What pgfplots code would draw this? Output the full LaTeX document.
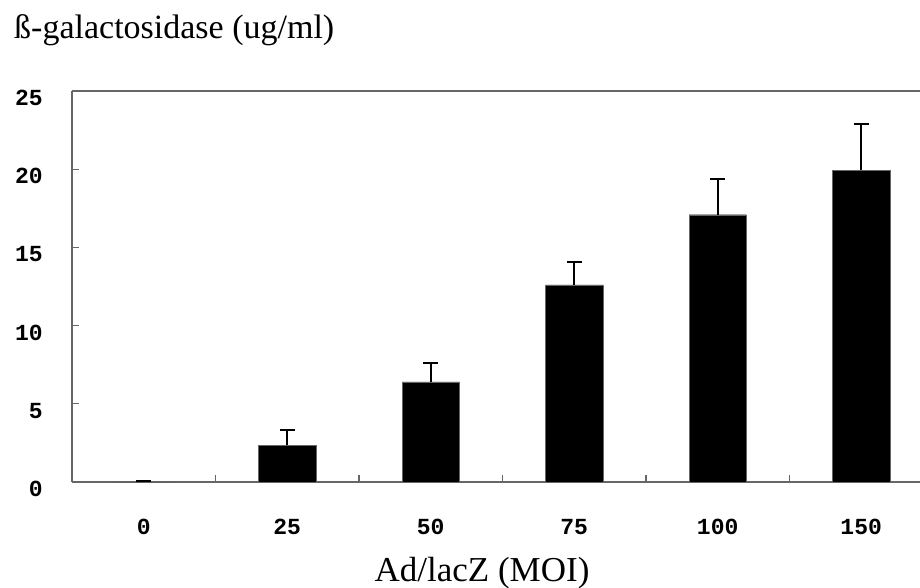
\documentclass[border=0pt]{standalone}
\usepackage{pgfplots}
\pgfplotsset{compat=1.18}
\usepackage{fontspec}
\setmainfont{Liberation Serif}
\newfontfamily\tickfont{Liberation Mono}

\begin{document}
\begin{tikzpicture}
\useasboundingbox (0,0) rectangle (920pt,587pt);
\begin{axis}[
    at={(72pt,105pt)}, anchor=south west,
    scale only axis, width=848pt, height=391pt,
    xmin=-0.5, xmax=5.41, ymin=0, ymax=25,
    axis x line=box, axis y line=left,
    axis line style={-, black!60, line width=2pt},
    xtick={0.5,1.5,2.5,3.5,4.5}, xticklabels={},
    extra x ticks={0,1,2,3,4,5},
    extra x tick labels={0,25,50,75,100,150},
    extra x tick style={major tick length=0pt},
    ytick={0,5,10,15,20,25},
    tick align=inside, xtick pos=left, ytick pos=left,
    major tick length=7pt,
    tick style={black!60, line width=1.2pt},
    /pgf/number format/assume math mode=true,
    xticklabel style={font=\tickfont\bfseries\fontsize{23}{23}\selectfont, anchor=center, yshift=-45pt},
    yticklabel style={font=\tickfont\bfseries\fontsize{23}{23}\selectfont, anchor=east, inner sep=0pt, xshift=-29pt, yshift=-7pt},
    title={ß-galactosidase (ug/ml)},
    title style={font=\fontsize{34}{34}\selectfont, at={(rel axis cs:0,1)}, anchor=base west, xshift=-58pt, yshift=46pt, inner sep=0pt},
    xlabel={Ad/lacZ (MOI)},
    xlabel style={font=\fontsize{35}{35}\selectfont, at={(rel axis cs:0.4835,0)}, anchor=base, yshift=-99pt, inner sep=0pt},
]
\addplot[ybar, bar width=0.4, fill=black, draw=black!60,
    error bars/.cd, y dir=plus, y explicit,
    error mark=|,
    error bar style={line width=2pt, black},
    error mark options={line width=2pt, mark size=7.5pt, black}]
    coordinates {
    (0,0) +- (0,0.05)
    (1,2.35) +- (0,0.97)
    (2,6.41) +- (0,1.2)
    (3,12.6) +- (0,1.47)
    (4,17.09) +- (0,2.28)
    (5,19.93) +- (0,2.98)
};
\end{axis}
\end{tikzpicture}
\end{document}
